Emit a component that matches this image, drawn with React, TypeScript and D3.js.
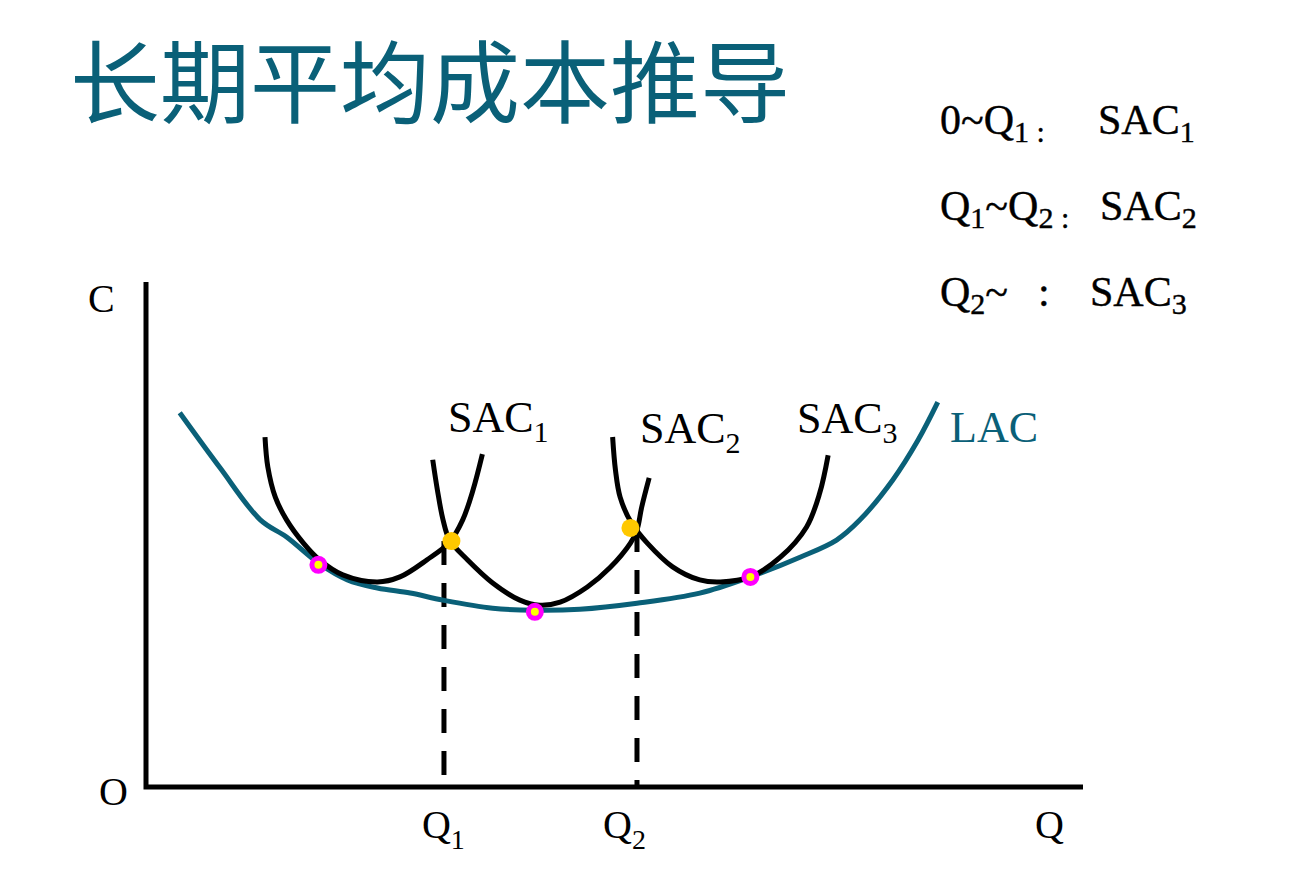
import React from 'react'
import * as d3 from 'd3'

// curve points in (Q, C) units
const lacQ = [3.6, 7.9, 12.2, 15.0, 18.5, 21.5, 24.7, 28.2, 31.7, 37.0, 41.5, 46.3, 52.4, 59.1, 64.5, 69.8, 73.7, 76.2, 79.7, 82.4, 84.5]
const lacC = [74.1, 63.2, 52.9, 49.5, 44.2, 41.0, 39.4, 38.4, 37.0, 35.4, 35.0, 35.2, 36.4, 38.4, 41.6, 45.5, 48.9, 52.9, 60.8, 68.7, 76.2]

const sac1Q = [12.7, 13.0, 13.8, 15.0, 16.8, 18.5, 21.0, 24.7, 27.1, 30.0, 32.4, 33.8, 34.9, 35.9]
const sac1C = [69.3, 63.4, 57.4, 52.9, 48.3, 45.0, 42.0, 40.6, 41.6, 45.0, 48.5, 52.9, 58.8, 65.9]

const sac2Q = [30.6, 31.1, 31.7, 32.4, 34.3, 37.0, 39.9, 42.0, 44.2, 47.1, 49.5, 51.7, 52.4, 52.9, 53.7]
const sac2C = [64.8, 58.8, 52.9, 48.9, 45.0, 40.4, 37.0, 36.0, 36.6, 39.6, 43.4, 48.3, 50.9, 55.4, 61.2]

const sac3Q = [49.8, 50.1, 50.6, 51.8, 53.5, 56.2, 59.1, 61.3, 64.5, 67.7, 70.5, 71.9, 72.8]
const sac3C = [69.3, 62.8, 57.4, 52.3, 48.3, 43.6, 41.0, 40.6, 41.6, 45.5, 51.5, 58.2, 65.7]

// intersections of neighbouring SAC curves (switch points)
const crossQ = [32.6, 51.7]
const crossC = [48.7, 51.3]

// tangency points of SAC with LAC
const tangentQ = [18.4, 41.5, 64.5]
const tangentC = [44.0, 34.7, 41.6]

// Q1, Q2 on the horizontal axis
const tickValues = [31.8, 52.4]
const tickSubs = ['1', '2']

const teal = '#0a6078'
const serif = '"Liberation Serif", "Times New Roman", serif'

const zip = (qs: number[], cs: number[]) => qs.map((q, i) => [q, cs[i]] as [number, number])

export default function App() {
  const width = 1296
  const height = 894

  const x = d3.scaleLinear().domain([0, 100]).range([146, 1083])
  const y = d3.scaleLinear().domain([0, 100]).range([787, 282])

  const line = d3.line<[number, number]>()
    .x(d => x(d[0]))
    .y(d => y(d[1]))
    .curve(d3.curveCatmullRom.alpha(0.5))

  const sacs = [zip(sac1Q, sac1C), zip(sac2Q, sac2C), zip(sac3Q, sac3C)]
  const tickLabelDx = [-22, -34]

  return (
    <svg width={width} height={height} style={{ position: 'absolute', left: 0, top: 0, background: '#fff' }}>
      {/* title */}
      <text x={70} y={116} fontSize={90} fill={teal} fontFamily='"Noto Sans CJK SC", sans-serif'>长期平均成本推导</text>

      {/* rule list on the right */}
      <g fontFamily={serif} fill="#000" stroke="#000" strokeWidth={0.4}>
        <text x={940} y={134} fontSize={42}>
          0~Q<tspan fontSize={30} dy={8}>1 :</tspan>
          <tspan x={1098} dy={-8}>SAC</tspan><tspan fontSize={30} dy={8}>1</tspan>
        </text>
        <text x={940} y={220} fontSize={42}>
          Q<tspan fontSize={30} dy={8}>1</tspan><tspan dy={-8}>~Q</tspan><tspan fontSize={30} dy={8}>2 :</tspan>
          <tspan x={1100} dy={-8}>SAC</tspan><tspan fontSize={30} dy={8}>2</tspan>
        </text>
        <text x={940} y={306} fontSize={42}>
          Q<tspan fontSize={30} dy={8}>2</tspan><tspan dy={-8}>~</tspan>
          <tspan x={1038}>:</tspan>
          <tspan x={1090}>SAC</tspan><tspan fontSize={30} dy={8}>3</tspan>
        </text>
      </g>

      {/* axes */}
      <path d={`M${x(0)},${y(100)}V${y(0)}H${x(100)}`} fill="none" stroke="#000" strokeWidth={5} />
      <text x={88} y={312} fontSize={40} fontFamily={serif}>C</text>
      <text x={99} y={805} fontSize={40} fontFamily={serif}>O</text>
      <text x={1035} y={838} fontSize={40} fontFamily={serif}>Q</text>
      {tickValues.map((v, i) => (
        <text key={i} x={x(v) + tickLabelDx[i]} y={838} fontSize={40} fontFamily={serif}>
          Q<tspan fontSize={28} dy={11}>{tickSubs[i]}</tspan>
        </text>
      ))}

      {/* dashed guides from switch points down to Q1, Q2 */}
      {tickValues.map((v, i) => (
        <line key={i} x1={x(v)} x2={x(v)} y1={y(crossC[i])} y2={y(0)}
          stroke="#000" strokeWidth={5} strokeDasharray="24 18" />
      ))}

      {/* LAC */}
      <path d={line(zip(lacQ, lacC)) || ''} fill="none" stroke={teal} strokeWidth={5} />

      {/* SAC curves */}
      {sacs.map((pts, i) => (
        <path key={i} d={line(pts) || ''} fill="none" stroke="#000" strokeWidth={5} />
      ))}

      {/* curve labels */}
      <g fontFamily={serif} fontSize={44}>
        <text x={448} y={432}>SAC<tspan fontSize={30} dy={10}>1</tspan></text>
        <text x={640} y={443}>SAC<tspan fontSize={30} dy={10}>2</tspan></text>
        <text x={797} y={433}>SAC<tspan fontSize={30} dy={10}>3</tspan></text>
        <text x={950} y={442} fill={teal}>LAC</text>
      </g>

      {/* switch points */}
      {crossQ.map((q, i) => (
        <circle key={i} cx={x(q)} cy={y(crossC[i])} r={9} fill="#ffc800" />
      ))}

      {/* tangency points */}
      {tangentQ.map((q, i) => (
        <circle key={i} cx={x(q)} cy={y(tangentC[i])} r={6.5} fill="#ffff00" stroke="#ff00ff" strokeWidth={5} />
      ))}
    </svg>
  )
}
